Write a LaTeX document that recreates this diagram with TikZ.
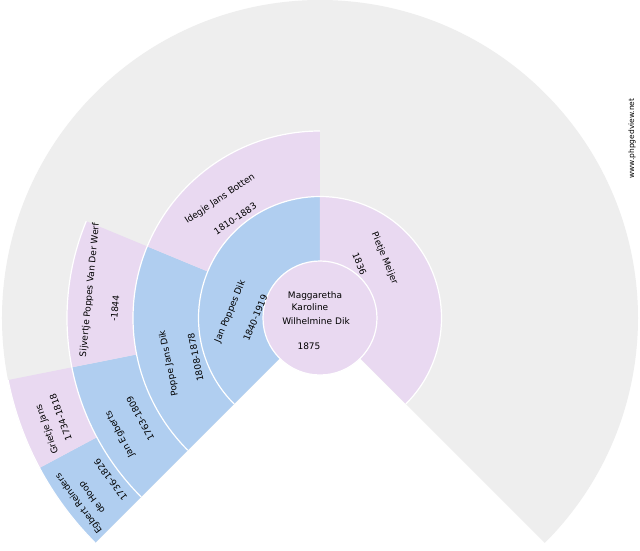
\documentclass[tikz,border=0pt]{standalone}
\usepackage{fontspec}
\setmainfont{DejaVu Sans}
\definecolor{fanblue}{RGB}{176,206,240}
\definecolor{fanpink}{RGB}{233,217,241}
\definecolor{fangrey}{RGB}{238,238,238}
\newcommand\fansector[5]{\fill[#1] (#2:#4pt) arc[start angle=#2,end angle=#3,radius=#4pt] -- (#3:#5pt) arc[start angle=#3,end angle=#2,radius=#5pt] -- cycle;}
\newcommand\fansep[3]{\draw[sepline] (#1:#3pt) arc[start angle=#1,end angle=#2,radius=#3pt];}
\begin{document}
\begin{tikzpicture}[x=1pt,y=1pt,
  sepline/.style={draw=white,line width=1.2pt},
  lbl/.style={font=\fontsize{9}{10}\selectfont, inner sep=0pt},
  wm/.style={font=\fontsize{7.5}{8}\selectfont, inner sep=0pt}]
\useasboundingbox (-320,-232) rectangle (320,318);
\fill[white] (-320,-232) rectangle (320,318);
% background fan
\fansector{fangrey}{-45}{225}{0}{318}
% ring 1
\fansector{fanblue}{90}{225}{57}{121.5}
\fansector{fanpink}{-45}{90}{57}{121.5}
% ring 2
\fansector{fanblue}{157.5}{225}{121.5}{187}
\fansector{fanpink}{90}{157.5}{121.5}{187}
% ring 3
\fansector{fanblue}{191.25}{225}{187}{253}
\fansector{fanpink}{157.5}{191.25}{187}{253}
% ring 4
\fansector{fanblue}{208.125}{225}{253}{318}
\fansector{fanpink}{191.25}{208.125}{253}{318}
% separators
\fansep{-45}{225}{121.5}
\fansep{90}{225}{187}
\fansep{157.5}{225}{253}
\fansep{191.25}{225}{318}
% centre
\draw[sepline, fill=fanpink] (0,0) circle[radius=57pt];
% centre text
\node[lbl] (c1) at (-5,22) {Maggaretha};
\node[lbl] (c2) at (-10,10.7) {Karoline};
\node[lbl] (c3) at (-4,-2.7) {Wilhelmine Dik};
\node[lbl] (c4) at (-11,-28.3) {1875};
% ring 1
\node[lbl, rotate=67.5] (f1n) at (-89.7,6.3) {Jan Poppes Dik};
\node[lbl, rotate=67.5] (f1d) at (-64.7,0) {1840-1919};
\node[lbl, rotate=-67.5] (m1n) at (64.5,59.5) {Pietje Meijer};
\node[lbl, rotate=-67.5] (m1d) at (39.5,54) {1836};
% ring 2
\node[lbl, rotate=101.25] (ffn) at (-151,-45.3) {Poppe Jans Dik};
\node[lbl, rotate=101.25] (ffd) at (-124.3,-39.3) {1808-1878};
\node[lbl, rotate=33.75] (fmn) at (-100,119) {Idegje Jans Botten};
\node[lbl, rotate=33.75] (fmd) at (-84.7,99.3) {1810-1883};
% ring 3
\node[lbl, rotate=84.375] (ffmn) at (-230,28) {Sijvertje Poppes Van Der Werf};
\node[lbl, rotate=84.375] (ffmd) at (-205,9.7) {-1844};
\node[lbl, rotate=118.125] (fffn) at (-200,-116.3) {Jan Egberts};
\node[lbl, rotate=118.125] (fffd) at (-179.7,-100.7) {1763-1809};
% ring 4
\node[lbl, rotate=109.6875] (fffmn) at (-272.7,-111.3) {Grietje Jans};
\node[lbl, rotate=109.6875] (fffmd) at (-259.3,-99.3) {1734-1818};
\node[lbl, rotate=126.5625] (ffffn) at (-241,-185.5) {Egbert Reinders};
\node[lbl, rotate=126.5625] (ffffn2) at (-227.7,-179.3) {de Hoop};
\node[lbl, rotate=126.5625] (ffffd) at (-209.3,-162) {1736-1826};
% watermark
\node[wm, rotate=90] (wmk) at (312,179.5) {www.phpgedview.net};
\end{tikzpicture}
\end{document}
